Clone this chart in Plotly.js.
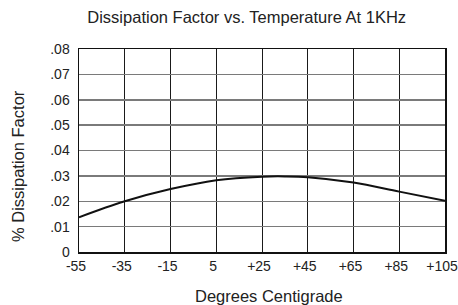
<!DOCTYPE html>
<html>
<head>
<meta charset="utf-8">
<script src="https://cdn.plot.ly/plotly-3.0.1.min.js"></script>
<style>
html,body{margin:0;padding:0;background:#fff;}
#chart{width:458px;height:305px;}
</style>
</head>
<body>
<div id="chart"></div>
<script>
// Data
var temperature = [-55, -35, -15, 5, 25, 35, 45, 65, 85, 105];
var dissipation = [0.0137, 0.0200, 0.0248, 0.0283, 0.0297, 0.0298, 0.0295, 0.0274, 0.0238, 0.0202];

var xTickVals = [-55, -35, -15, 5, 25, 45, 65, 85, 105];
var xTickText = ["-55", "-35", "-15", "5", "+25", "+45", "+65", "+85", "+105"];
var yTickVals = [0, 0.01, 0.02, 0.03, 0.04, 0.05, 0.06, 0.07, 0.08];
var yTickText = ["0", ".01", ".02", ".03", ".04", ".05", ".06", ".07", ".08"];

var fontFam = "Liberation Sans, Arial, Helvetica, sans-serif";

var trace = {
  x: temperature,
  y: dissipation,
  type: "scatter",
  mode: "lines",
  line: {color: "#111", width: 2, shape: "spline", smoothing: 1},
  hoverinfo: "skip"
};

var layout = {
  width: 458,
  height: 305,
  margin: {l: 79, r: 13, t: 49, b: 53, pad: 0},
  paper_bgcolor: "#fff",
  plot_bgcolor: "#fff",
  showlegend: false,
  font: {family: fontFam, color: "#222", size: 14},
  title: {
    text: "Dissipation Factor vs. Temperature At 1KHz",
    font: {family: fontFam, size: 16.5, color: "#222"},
    x: 246.7 / 458, xref: "container", xanchor: "center",
    y: 1 - 17 / 305, yref: "container", yanchor: "middle"
  },
  xaxis: {
    type: "linear",
    range: [-55, 105],
    tickvals: xTickVals,
    ticktext: xTickText,
    ticks: "",
    showgrid: true,
    gridcolor: "#1a1a1a",
    gridwidth: 1,
    zeroline: false,
    showline: true,
    linecolor: "#111",
    linewidth: 1.5,
    mirror: true,
    ticklabelshift: -3,
    ticklabelstandoff: 1,
    tickfont: {family: fontFam, size: 14, color: "#222"},
    fixedrange: true
  },
  yaxis: {
    type: "linear",
    range: [0, 0.08],
    tickvals: yTickVals,
    ticktext: yTickText,
    ticks: "",
    showgrid: true,
    gridcolor: "#7a7a7a",
    gridwidth: 1.5,
    zeroline: false,
    showline: true,
    linecolor: "#111",
    linewidth: 1.5,
    mirror: true,
    ticklabelstandoff: 5,
    tickfont: {family: fontFam, size: 14, color: "#222"},
    fixedrange: true
  },
  annotations: [
    {
      text: "Degrees Centigrade",
      xref: "paper", yref: "paper",
      x: (269 - 79) / 366, y: -(296 - 252) / 203,
      xanchor: "center", yanchor: "middle",
      showarrow: false,
      font: {family: fontFam, size: 16.5, color: "#222"}
    },
    {
      text: "% Dissipation Factor",
      xref: "paper", yref: "paper",
      x: -(79 - 18) / 366, y: (252 - 166) / 203,
      xanchor: "center", yanchor: "middle",
      textangle: -90,
      showarrow: false,
      font: {family: fontFam, size: 16.5, color: "#222"}
    }
  ]
};

Plotly.newPlot("chart", [trace], layout, {displayModeBar: false, staticPlot: true});
</script>
</body>
</html>
